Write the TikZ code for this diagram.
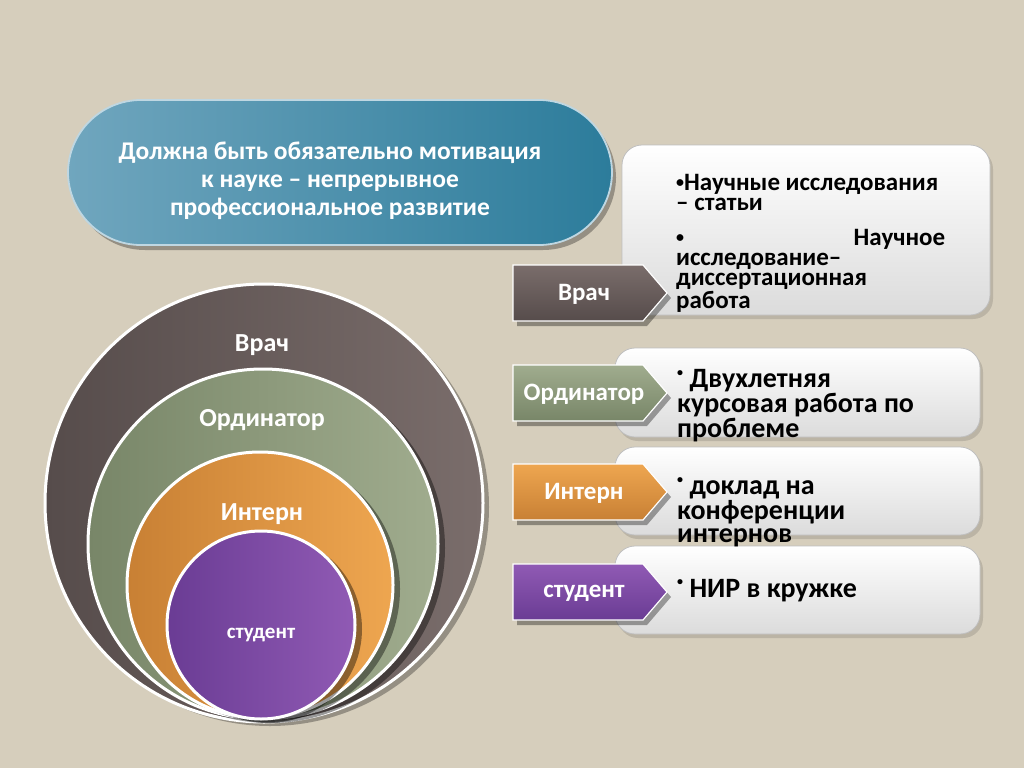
\documentclass[tikz,border=0pt]{standalone}
\usepackage{fontspec}
\setmainfont{Carlito}
\definecolor{linen}{RGB}{214,206,188}
\definecolor{pillL}{RGB}{112,166,190}
\definecolor{pillR}{RGB}{44,124,155}
\definecolor{vrachL}{RGB}{86,76,75}
\definecolor{vrachR}{RGB}{122,109,107}
\definecolor{ordL}{RGB}{120,134,104}
\definecolor{ordR}{RGB}{160,172,142}
\definecolor{intL}{RGB}{200,128,52}
\definecolor{intR}{RGB}{238,166,80}
\definecolor{studL}{RGB}{106,60,148}
\definecolor{studR}{RGB}{144,90,180}
\tikzset{
  ring/.style={draw=white, line width=3pt},
  ringshadow/.style={fill=black, opacity=.4},
  ringlabel/.style={text=white, font=\bfseries\fontsize{26}{26}\selectfont},
  tagbox/.style={draw=white, line width=1.2pt},
  tagshadow/.style={fill=black, opacity=.35},
  taglabel/.style={text=white, font=\bfseries\fontsize{25}{25}\selectfont},
  notebox/.style={draw=black!25, line width=.8pt, rounded corners=20pt,
    top color=white, bottom color=black!14},
  notetext/.style={anchor=base west, inner sep=0pt, align=left,
    font=\bfseries\fontsize{28}{22.5}\selectfont}
}
\newcommand{\bul}{\raisebox{.4em}{\fontsize{12}{12}\selectfont•}}
\begin{document}
\begin{tikzpicture}[x=1pt, y=-1pt]
  \useasboundingbox (0,0) rectangle (1024,768);
  \fill[linen] (0,0) rectangle (1024,768);

  % goal banner
  \fill[black, opacity=.3, rounded corners=73pt] (72,105) rectangle (616,250);
  \draw[draw=white!55!pillL, line width=1.8pt, left color=pillL, right color=pillR, rounded corners=73pt]
    (68,100) rectangle (612,245);
  \node[text=white, align=center, font=\bfseries\fontsize{25.5}{28}\selectfont] (goal) at (330,181)
    {Должна быть обязательно мотивация\\к науке – непрерывное\\профессиональное развитие};

  % rings
  \fill[ringshadow, opacity=.3] (270,507) circle (219pt);
  \draw[ring, left color=vrachL, right color=vrachR] (264,503) circle (219pt);
  \fill[ringshadow] (270,548) circle (175pt);
  \draw[ring, left color=ordL, right color=ordR] (263,544) circle (175pt);
  \fill[ringshadow] (267,589) circle (133pt);
  \draw[ring, left color=intL, right color=intR] (260,585) circle (133pt);
  \fill[ringshadow] (268,629) circle (94pt);
  \draw[ring, left color=studL, right color=studR] (261,625) circle (94pt);
  \node[ringlabel] (rvrach) at (262,345) {Врач};
  \node[ringlabel] (rord) at (262,420) {Ординатор};
  \node[ringlabel] (rint) at (262,514) {Интерн};
  \node[ringlabel, font=\bfseries\fontsize{21}{21}\selectfont] (rstud) at (261,635) {студент};

  % note boxes
  \fill[black, opacity=.12, rounded corners=20pt] (625,149) rectangle (993,319);
  \draw[notebox] (622,145) rectangle (990,315);
  \fill[black, opacity=.12, rounded corners=20pt] (618,352) rectangle (983,441);
  \draw[notebox] (615,348) rectangle (980,437);
  \fill[black, opacity=.12, rounded corners=20pt] (618,451) rectangle (983,539);
  \draw[notebox] (615,447) rectangle (980,535);
  \fill[black, opacity=.12, rounded corners=20pt] (618,550) rectangle (983,638);
  \draw[notebox] (615,546) rectangle (980,634);

  \node[notetext, font=\bfseries\fontsize{25}{20}\selectfont] (nvrach) at (676,308)
    {\raisebox{.15em}{\fontsize{16}{16}\selectfont•}Научные исследования\\– статьи\\[15pt]
     \makebox[269pt][s]{\raisebox{.15em}{\fontsize{16}{16}\selectfont•}\hfill Научное}\\исследование–\\диссертационная\\работа};
  \node[notetext] (nord) at (677,437) {\bul\ Двухлетняя\\курсовая работа по\\проблеме};
  \node[notetext] (nint) at (677,542) {\bul\ доклад на\\конференции\\интернов};
  \node[notetext] (nstud) at (677,597) {\bul\ НИР в кружке};

  % tags
  \fill[tagshadow] (517,270) -- (647,270) -- (671,298) -- (647,326) -- (517,326) -- cycle;
  \draw[tagbox, top color=vrachR, bottom color=vrachL]
    (513,265) -- (643,265) -- (667,293) -- (643,321) -- (513,321) -- cycle;
  \fill[tagshadow] (517,370) -- (647,370) -- (671,398) -- (647,426) -- (517,426) -- cycle;
  \draw[tagbox, top color=ordR, bottom color=ordL]
    (513,365) -- (643,365) -- (667,393) -- (643,421) -- (513,421) -- cycle;
  \fill[tagshadow] (517,469) -- (647,469) -- (671,497) -- (647,525) -- (517,525) -- cycle;
  \draw[tagbox, top color=intR, bottom color=intL]
    (513,464) -- (643,464) -- (667,492) -- (643,520) -- (513,520) -- cycle;
  \fill[tagshadow] (517,569) -- (647,569) -- (671,597) -- (647,625) -- (517,625) -- cycle;
  \draw[tagbox, top color=studR, bottom color=studL]
    (513,564) -- (643,564) -- (667,592) -- (643,620) -- (513,620) -- cycle;
  \node[taglabel] (tvrach) at (584,294) {Врач};
  \node[taglabel] (tord) at (584,394) {Ординатор};
  \node[taglabel] (tint) at (584,493) {Интерн};
  \node[taglabel] (tstud) at (584,593) {студент};
\end{tikzpicture}
\end{document}
